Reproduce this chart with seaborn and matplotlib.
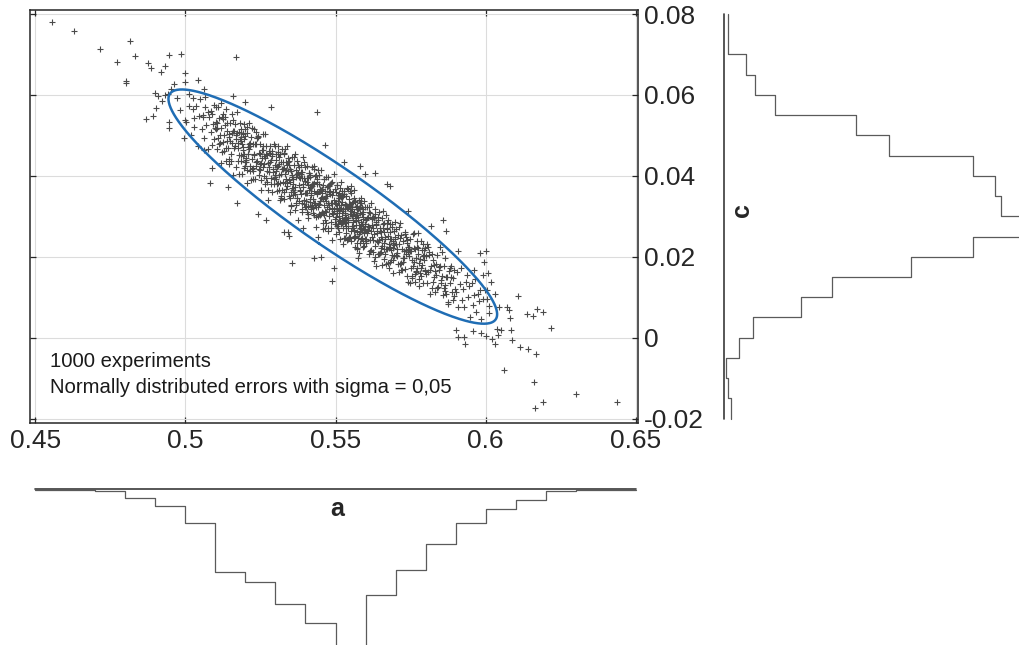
import numpy as np
import pandas as pd
import seaborn as sns
import matplotlib.pyplot as plt


# ============================
# Data
# (a and c of each experiment, in units of 1e-4)
# ============================

# points out in the tails / outside the ellipse
outer_a = [4555, 4628, 4715, 4817, 4834, 4772, 4801, 4803, 4875, 4887,
           4918, 4932, 4947, 4985, 4999, 4998, 5041, 4962, 4953, 4898,
           4909, 4931, 4942, 4922, 4903, 4894, 4870, 4945, 4946, 4972,
           5012, 5062, 4995, 5170, 5438, 5284, 5466, 5528, 5581, 5598,
           5631, 5672, 5682, 5741, 5859, 5819, 5868, 5909, 5980, 6000,
           5995, 5962, 5990, 6009, 6016, 6003, 6032, 6107, 6070, 6077,
           6082, 6043, 6011, 6139, 6159, 6170, 6192, 6216, 6036, 6050,
           6085, 6086, 5957, 5985, 6002, 6020, 6041, 6031, 5902, 5908,
           5927, 5932, 6113, 6142, 6168, 6061, 6160, 6165, 6190, 6299,
           6438, 5172, 5241, 5267, 5354, 5430, 5452, 5494, 5487, 5328,
           5341, 5345, 5391, 5441, 5081, 5062, 5088, 5142, 5158, 5199,
           5025, 5067, 5088, 5103, 5120, 4981, 4998, 5028, 5058]
outer_c = [780, 759, 714, 734, 697, 681, 635, 629, 680, 667,
           657, 671, 699, 701, 654, 633, 637, 626, 615, 604,
           598, 600, 602, 585, 567, 548, 541, 533, 518, 593,
           602, 615, 493, 694, 557, 570, 476, 434, 424, 404,
           408, 380, 375, 313, 290, 277, 264, 215, 210, 214,
           188, 167, 154, 159, 138, 118, 108, 103, 77, 68,
           49, 76, 79, 58, 54, 70, 64, 23, 22, 19,
           19, -6, 16, 11, 4, -3, 7, -16, 20, 2,
           2, -16, -23, -28, -40, -80, -110, -174, -160, -139,
           -158, 334, 305, 291, 184, 198, 200, 172, 140, 262,
           262, 252, 270, 248, 382, 464, 420, 373, 598, 583,
           565, 570, 553, 571, 579, 563, 538, 520, 545]

# dense core, grouped by a-bin
a50 = [5003, 5011, 5018, 5024, 5030, 5035, 5041, 5046, 5050, 5055, 5059, 5063,
       5066, 5070, 5074, 5077, 5080, 5084, 5087, 5090, 5093, 5095, 5097, 5099]
c50 = [534, 572, 501, 593, 542, 573, 475, 548, 589, 516, 551, 494,
       595, 526, 559, 467, 546, 509, 560, 476, 528, 574, 490, 519]

a51 = [5101, 5104, 5106, 5109, 5111, 5113, 5116, 5118, 5120, 5122,
       5124, 5126, 5128, 5130, 5132, 5134, 5136, 5138, 5140, 5142,
       5144, 5146, 5148, 5150, 5152, 5154, 5156, 5158, 5160, 5162,
       5164, 5166, 5168, 5170, 5172, 5174, 5176, 5178, 5180, 5182,
       5184, 5186, 5187, 5189, 5190, 5191, 5192, 5193, 5194, 5195,
       5196, 5197, 5198, 5199, 5103, 5115, 5127, 5139, 5151, 5163,
       5175, 5187, 5199, 5110, 5133, 5157, 5181, 5145, 5169, 5193,
       5121, 5147, 5173, 5185, 5159, 5135, 5107, 5179, 5191]
c51 = [533, 466, 518, 569, 478, 542, 500, 432, 518, 546,
       483, 552, 461, 501, 525, 437, 566, 485, 530, 468,
       504, 441, 531, 487, 455, 553, 505, 401, 512, 469,
       529, 474, 422, 501, 558, 436, 481, 508, 451, 531,
       436, 485, 516, 404, 478, 449, 506, 464, 528, 420,
       492, 453, 515, 435, 517, 480, 540, 510, 436, 512,
       468, 495, 425, 493, 545, 482, 491, 429, 491, 504,
       458, 497, 506, 452, 537, 469, 530, 404, 471]

a52 = [5200, 5202, 5204, 5206, 5208, 5210, 5212, 5214, 5216, 5218,
       5220, 5222, 5224, 5226, 5228, 5230, 5232, 5234, 5236, 5238,
       5240, 5242, 5244, 5246, 5248, 5250, 5252, 5254, 5256, 5258,
       5260, 5262, 5264, 5266, 5268, 5270, 5272, 5274, 5276, 5278,
       5280, 5282, 5284, 5286, 5288, 5290, 5292, 5294, 5296, 5298,
       5201, 5205, 5209, 5213, 5217, 5221, 5225, 5229, 5233, 5237,
       5241, 5245, 5249, 5253, 5257, 5261, 5265, 5269, 5273, 5277,
       5281, 5285, 5289, 5293, 5297, 5203, 5215, 5227, 5239, 5251,
       5263, 5275, 5287, 5299, 5211, 5223, 5235, 5247, 5259, 5271,
       5283, 5295, 5207]
c52 = [498, 443, 520, 414, 471, 455, 531, 425, 475, 390,
       496, 442, 478, 413, 515, 452, 393, 479, 424, 493,
       437, 499, 401, 457, 414, 479, 365, 445, 464, 421,
       504, 399, 445, 379, 454, 475, 411, 432, 340, 462,
       423, 474, 394, 440, 361, 450, 410, 479, 379, 426,
       440, 505, 454, 478, 411, 518, 419, 455, 478, 433,
       496, 416, 454, 389, 473, 430, 504, 394, 451, 410,
       435, 381, 453, 418, 473, 433, 482, 393, 493, 432,
       450, 364, 461, 396, 466, 417, 508, 429, 464, 384,
       457, 393, 382]

a53 = [5300, 5302, 5304, 5306, 5308, 5310, 5312, 5314, 5316, 5318,
       5320, 5322, 5324, 5326, 5328, 5330, 5332, 5334, 5336, 5338,
       5340, 5342, 5344, 5346, 5348, 5350, 5352, 5354, 5356, 5358,
       5360, 5362, 5364, 5366, 5368, 5370, 5372, 5374, 5376, 5378,
       5380, 5382, 5384, 5386, 5388, 5390, 5392, 5394, 5396, 5398,
       5301, 5305, 5309, 5313, 5317, 5321, 5325, 5329, 5333, 5337,
       5341, 5345, 5349, 5353, 5357, 5361, 5365, 5369, 5373, 5377,
       5381, 5385, 5389, 5393, 5397, 5303, 5311, 5319, 5327, 5335,
       5343, 5351, 5359, 5367, 5375, 5383, 5391, 5399, 5307, 5315,
       5323, 5331, 5339, 5347, 5355, 5363, 5371, 5379, 5387, 5395,
       5302, 5328, 5356, 5384,
       5312, 5334, 5346, 5358, 5366, 5372, 5388, 5394, 5308, 5352]
c53 = [403, 454, 363, 421, 474, 383, 430, 340, 453, 404,
       434, 365, 417, 385, 456, 343, 405, 435, 367, 475,
       375, 412, 349, 436, 386, 418, 326, 401, 447, 352,
       393, 359, 454, 372, 415, 328, 404, 290, 426, 377,
       339, 395, 426, 355, 310, 409, 373, 341, 433, 358,
       439, 380, 458, 401, 351, 416, 435, 359, 467, 382,
       434, 390, 344, 411, 364, 446, 315, 397, 346, 422,
       363, 405, 332, 380, 421, 392, 447, 346, 420, 393,
       444, 361, 393, 332, 407, 365, 446, 324, 425, 383,
       467, 383, 426, 310, 396, 426, 345, 396, 319, 395,
       413, 455, 369, 410,
       365, 415, 427, 380, 356, 437, 395, 330, 453, 329]

a54 = [5400, 5402, 5404, 5406, 5408, 5410, 5412, 5414, 5416, 5418,
       5420, 5422, 5424, 5426, 5428, 5430, 5432, 5434, 5436, 5438,
       5440, 5442, 5444, 5446, 5448, 5450, 5452, 5454, 5456, 5458,
       5460, 5462, 5464, 5466, 5468, 5470, 5472, 5474, 5476, 5478,
       5480, 5482, 5484, 5486, 5488, 5490, 5492, 5494, 5496, 5498,
       5401, 5405, 5409, 5413, 5417, 5421, 5425, 5429, 5433, 5437,
       5441, 5445, 5449, 5453, 5457, 5461, 5465, 5469, 5473, 5477,
       5481, 5485, 5489, 5493, 5497, 5403, 5411, 5419, 5427, 5435,
       5443, 5451, 5459, 5467, 5475, 5483, 5491, 5499, 5407, 5415,
       5423, 5431, 5439, 5447, 5455, 5463, 5471, 5479, 5487, 5495,
       5404, 5416, 5428, 5440, 5452, 5464, 5476, 5488, 5410, 5422,
       5434, 5446, 5458, 5470, 5482, 5494, 5406, 5418, 5430, 5442,
       5454, 5466, 5478, 5490, 5414, 5438, 5462, 5486, 5426, 5474,
       5450, 5498]
c54 = [388, 324, 424, 358, 395, 297, 365, 403, 336, 372,
       324, 423, 343, 379, 303, 363, 400, 324, 274, 386,
       354, 329, 401, 306, 363, 339, 415, 311, 368, 283,
       378, 328, 291, 346, 396, 311, 349, 264, 376, 329,
       300, 379, 334, 272, 353, 309, 361, 319, 404, 282,
       357, 395, 305, 408, 358, 375, 320, 417, 332, 358,
       301, 380, 337, 364, 269, 391, 312, 339, 373, 317,
       354, 285, 384, 306, 333, 337, 407, 353, 382, 298,
       414, 344, 307, 351, 271, 360, 305, 368, 326, 371,
       379, 327, 391, 302, 348, 393, 322, 360, 241, 341,
       310, 397, 332, 360, 306, 363, 396, 321, 377, 328,
       401, 331, 343, 284, 363, 313, 385, 318, 425, 324,
       358, 271, 374, 333, 343, 381, 304, 383, 308, 334,
       367, 293]

a55 = [5500, 5502, 5504, 5506, 5508, 5510, 5512, 5514, 5516, 5518,
       5520, 5522, 5524, 5526, 5528, 5530, 5532, 5534, 5536, 5538,
       5540, 5542, 5544, 5546, 5548, 5550, 5552, 5554, 5556, 5558,
       5560, 5562, 5564, 5566, 5568, 5570, 5572, 5574, 5576, 5578,
       5580, 5582, 5584, 5586, 5588, 5590, 5592, 5594, 5596, 5598,
       5501, 5505, 5509, 5513, 5517, 5521, 5525, 5529, 5533, 5537,
       5541, 5545, 5549, 5553, 5557, 5561, 5565, 5569, 5573, 5577,
       5581, 5585, 5589, 5593, 5597, 5503, 5507, 5511, 5515, 5519,
       5523, 5527, 5531, 5535, 5539, 5543, 5547, 5551, 5555, 5559,
       5563, 5567, 5571, 5575, 5579, 5583, 5587, 5591, 5595, 5599,
       5504, 5514, 5524, 5534, 5544, 5554, 5564, 5574, 5584, 5594,
       5508, 5518, 5528, 5538, 5548, 5558, 5568, 5578, 5588, 5598,
       5502, 5512, 5522, 5532, 5542, 5552, 5562, 5572, 5582, 5592,
       5506, 5516, 5526, 5536, 5546, 5556, 5566, 5576, 5586, 5596,
       5510, 5530, 5550, 5570, 5590, 5520, 5540, 5560, 5580, 5500,
       5513, 5527, 5543, 5557, 5573, 5587, 5505, 5535, 5565, 5595,
       5511, 5533, 5547, 5569, 5583, 5519, 5541, 5555, 5577, 5591,
       5525, 5549, 5561]
c55 = [299, 361, 313, 377, 270, 329, 345, 243, 317, 347,
       295, 362, 271, 317, 247, 331, 303, 350, 275, 320,
       368, 290, 328, 247, 305, 263, 375, 275, 332, 285,
       248, 311, 225, 338, 289, 261, 319, 196, 298, 340,
       264, 323, 243, 285, 305, 223, 293, 267, 337, 243,
       331, 276, 353, 301, 384, 284, 312, 355, 247, 325,
       296, 331, 249, 314, 271, 346, 250, 296, 325, 210,
       307, 268, 324, 240, 276, 257, 337, 315, 369, 282,
       347, 289, 318, 258, 370, 292, 325, 240, 300, 336,
       266, 304, 219, 319, 279, 332, 246, 298, 261, 280,
       377, 290, 349, 298, 249, 324, 301, 246, 344, 258,
       282, 321, 354, 242, 318, 291, 323, 256, 282, 324,
       334, 262, 336, 309, 270, 357, 247, 303, 271, 310,
       309, 350, 232, 327, 343, 277, 252, 290, 332, 227,
       346, 294, 305, 235, 317, 308, 320, 364, 261, 280,
       288, 363, 285, 306, 222, 306, 320, 270, 336, 269,
       358, 283, 330, 279, 234, 328, 243, 319, 321, 276,
       291, 363, 263]

a56 = [5600, 5602, 5604, 5606, 5608, 5610, 5612, 5614, 5616, 5618,
       5620, 5622, 5624, 5626, 5628, 5630, 5632, 5634, 5636, 5638,
       5640, 5642, 5644, 5646, 5648, 5650, 5652, 5654, 5656, 5658,
       5660, 5662, 5664, 5666, 5668, 5670, 5672, 5674, 5676, 5678,
       5680, 5682, 5684, 5686, 5688, 5690, 5692, 5694, 5696, 5698,
       5601, 5605, 5609, 5613, 5617, 5621, 5625, 5629, 5633, 5637,
       5641, 5645, 5649, 5653, 5657, 5661, 5665, 5669, 5673, 5677,
       5681, 5685, 5689, 5693, 5697, 5603, 5611, 5619, 5627, 5635,
       5643, 5651, 5659, 5667, 5675, 5683, 5691, 5699, 5607, 5615,
       5623, 5639, 5655, 5671, 5687, 5631, 5647, 5663, 5679, 5695,
       5606, 5634, 5662, 5690, 5626, 5654, 5682]
c56 = [291, 233, 323, 263, 298, 206, 273, 307, 241, 334,
       250, 295, 211, 271, 257, 306, 227, 278, 176, 259,
       290, 236, 310, 207, 264, 221, 250, 296, 180, 270,
       235, 283, 207, 249, 303, 219, 268, 184, 252, 231,
       261, 187, 244, 216, 274, 159, 234, 263, 201, 285,
       240, 295, 265, 322, 217, 278, 242, 297, 200, 264,
       299, 241, 270, 211, 313, 219, 245, 181, 270, 222,
       244, 191, 280, 222, 245, 244, 311, 263, 190, 282,
       208, 262, 282, 219, 291, 225, 193, 248, 277, 214,
       293, 239, 243, 284, 204, 318, 210, 260, 171, 228,
       258, 285, 194, 239, 299, 226, 281]

a57 = [5700, 5702, 5705, 5707, 5710, 5712, 5715, 5717, 5720, 5722,
       5725, 5727, 5730, 5732, 5735, 5737, 5740, 5742, 5745, 5747,
       5750, 5752, 5755, 5757, 5760, 5762, 5765, 5767, 5770, 5772,
       5775, 5777, 5780, 5782, 5785, 5787, 5790, 5792, 5795, 5797,
       5701, 5709, 5716, 5724, 5731, 5739, 5746, 5754, 5761, 5769,
       5776, 5784, 5791, 5799, 5704, 5719, 5734, 5749, 5764, 5779,
       5794, 5711, 5726, 5741, 5756, 5771, 5786, 5714, 5744, 5774,
       5706, 5736, 5766, 5796, 5728, 5758, 5788, 5718, 5748, 5778,
       5738, 5768, 5798]
c57 = [205, 268, 218, 253, 162, 231, 284, 184, 218, 168,
       238, 198, 262, 170, 216, 242, 137, 224, 201, 243,
       173, 214, 147, 257, 187, 222, 157, 197, 238, 172,
       222, 127, 195, 161, 239, 179, 202, 136, 217, 166,
       232, 183, 246, 197, 256, 153, 218, 192, 259, 165,
       206, 153, 231, 168, 201, 253, 208, 135, 218, 145,
       191, 273, 186, 211, 153, 223, 173, 183, 225, 259,
       209, 250, 137, 205, 213, 178, 217, 168, 215, 184,
       235, 162, 222]

a58 = [5800, 5803, 5806, 5809, 5812, 5815, 5818, 5821, 5824, 5827,
       5830, 5833, 5836, 5839, 5842, 5845, 5848, 5851, 5854, 5857,
       5860, 5863, 5866, 5869, 5872, 5875, 5878, 5881, 5884, 5887,
       5890, 5893, 5896, 5899, 5802, 5808, 5814, 5820, 5826, 5832,
       5838, 5844, 5850, 5856, 5862, 5868, 5874, 5880, 5886, 5892,
       5811, 5829, 5847, 5865]
c58 = [201, 136, 232, 162, 204, 107, 176, 207, 138, 179,
       113, 182, 154, 205, 125, 167, 223, 134, 153, 105,
       178, 131, 197, 107, 151, 82, 165, 134, 177, 113,
       147, 104, 167, 121, 157, 223, 167, 122, 191, 166,
       123, 175, 143, 211, 122, 151, 89, 172, 151, 92,
       211, 149, 176, 115]

a59 = [5901, 5905, 5909, 5913, 5917, 5921, 5925, 5929, 5933, 5937,
       5941, 5945, 5949, 5953, 5957, 5961, 5965, 5969, 5973, 5977,
       5981, 5986, 5991, 5997]
c59 = [113, 162, 77, 133, 173, 92, 120, 76, 137, 155,
       100, 127, 50, 134, 81, 106, 145, 63, 108, 90,
       118, 45, 96, 119]

a60 = [6004, 6012]
c60 = [96, 62]

# marginal histograms (counts per bin)
a_counts = [1, 1, 2, 9, 18, 35, 86, 96, 119, 139,
            172, 110, 84, 57, 35, 21, 11, 2, 1, 1]
c_counts = [3, 2, 1, 7, 13, 35, 49, 85, 113, 144,
            126, 123, 113, 75, 60, 23, 14, 10, 2, 2]

# 95 % confidence ellipse as drawn: centre, standard deviations, correlation
ell_center = [0.5491, 0.0324]
ell_sigma = [0.02235, 0.01183]
ell_rho = -0.919

x_ticks = [0.45, 0.5, 0.55, 0.6, 0.65]
x_ticklabels = ["0.45", "0.5", "0.55", "0.6", "0.65"]
y_ticks = [-0.02, 0, 0.02, 0.04, 0.06, 0.08]
y_ticklabels = ["-0.02", "0", "0.02", "0.04", "0.06", "0.08"]


a_all = np.concatenate([outer_a, a50, a51, a52, a53, a54, a55,
                        a56, a57, a58, a59, a60]) / 1e4
c_all = np.concatenate([outer_c, c50, c51, c52, c53, c54, c55,
                        c56, c57, c58, c59, c60]) / 1e4
print("experiments:", a_all.size)

a_edges = np.linspace(0.45, 0.65, len(a_counts) + 1)
c_edges = np.linspace(-0.02, 0.08, len(c_counts) + 1)

hist_a = pd.DataFrame({"a": (a_edges[:-1] + a_edges[1:]) / 2, "n": a_counts})
hist_c = pd.DataFrame({"c": (c_edges[:-1] + c_edges[1:]) / 2, "n": c_counts})


# ============================
# Figure layout (pixel boxes)
# ============================

sns.set_style("white")
plt.rcParams["font.family"] = ["Liberation Sans", "DejaVu Sans"]

W, H = 1019, 645
fig = plt.figure(figsize=(W / 100, H / 100), dpi=100)


def px_box(x0, y0, x1, y1):
    return [x0 / W, 1 - y1 / H, (x1 - x0) / W, (y1 - y0) / H]


ax = fig.add_axes(px_box(30, 10, 638, 423))
ax_a = fig.add_axes(px_box(30, 489, 638, 645))
ax_c = fig.add_axes(px_box(724, 10, 1019, 423))

dark = "#262626"
step_col = "#5a5a5a"


# ============================
# Scatter + confidence ellipse
# ============================

ax.grid(True, color="#dcdcdc", linewidth=0.8)
ax.set_axisbelow(True)

sns.scatterplot(x=a_all, y=c_all, marker="+", s=24, color="#4a4a4a",
                linewidth=0.8, ax=ax, zorder=3)

sa, sc = ell_sigma
cov = np.array([[sa * sa, ell_rho * sa * sc], [ell_rho * sa * sc, sc * sc]])
vals, vecs = np.linalg.eigh(cov)
t = np.linspace(0, 2 * np.pi, 400)
unit = np.vstack([np.cos(t), np.sin(t)])
ell = np.array(ell_center)[:, None] + vecs @ (np.sqrt(vals * 5.991)[:, None] * unit)
ax.plot(ell[0], ell[1], color="#1f6db4", linewidth=1.8, zorder=4)

ax.set_xlim(0.4483, 0.6507)
ax.set_ylim(-0.0211, 0.0810)
ax.set_xticks(x_ticks)
ax.set_xticklabels(x_ticklabels)
ax.set_yticks(y_ticks)
ax.set_yticklabels(y_ticklabels)
ax.yaxis.tick_right()
ax.tick_params(which="both", direction="in", length=4.3, width=0.9,
               color=dark, labelcolor=dark, top=True, bottom=True,
               left=True, right=True, labelleft=False, labelright=True,
               labelsize=19, pad=4)
for s in ax.spines.values():
    s.set_color(dark)
    s.set_linewidth(1.1)
ax.set_xlabel("")
ax.set_ylabel("")

ax.text(0.033, 0.150, "1000 experiments", transform=ax.transAxes,
        fontsize=14.6, va="center", color="#1a1a1a")
ax.text(0.033, 0.085, "Normally distributed errors with sigma = 0,05",
        transform=ax.transAxes, fontsize=14.6, va="center", color="#1a1a1a")


# ============================
# Marginal histograms
# ============================

sns.histplot(data=hist_a, x="a", weights="n", bins=list(a_edges),
             element="step", fill=False, color=step_col, linewidth=0.9,
             ax=ax_a)
ax_a.plot([a_edges[0], a_edges[-1]], [0, 0], color="#3a3a3a",
          linewidth=1.2, clip_on=False)
ax_a.set_xlim(ax.get_xlim())
ax_a.set_ylim(161.7, 0)
ax_a.axis("off")
ax_a.text(0.505, 0.875, "a", transform=ax_a.transAxes, ha="center",
          va="center", fontsize=18, fontweight="bold", color=dark)

sns.histplot(data=hist_c, y="c", weights="n", bins=list(c_edges),
             element="step", fill=False, color=step_col, linewidth=0.9,
             ax=ax_c)
ax_c.plot([0, 0], [c_edges[0], c_edges[-1]], color="#3a3a3a",
          linewidth=1.2, clip_on=False)
ax_c.set_ylim(ax.get_ylim())
ax_c.set_xlim(0, 134.1)
ax_c.axis("off")
ax_c.text(0.06, 0.516, "c", transform=ax_c.transAxes, ha="center",
          va="center", fontsize=18, fontweight="bold", rotation=90,
          color=dark)


fig.savefig("out.png", dpi=100)
print("saved out.png")
